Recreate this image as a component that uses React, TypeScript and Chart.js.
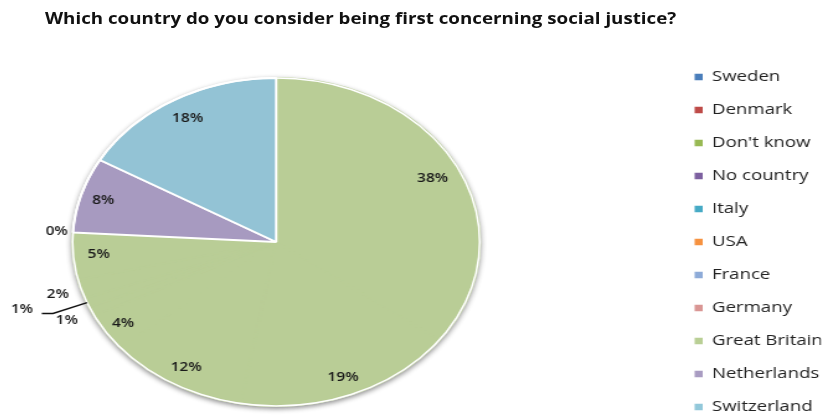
import React, { useEffect, useRef } from "react";
import { Chart, registerables } from "chart.js";

Chart.register(...registerables);

// ---------- data ----------
const TITLE = "Which country do you consider being first concerning social justice?";
const countries = [
  "Sweden",
  "Denmark",
  "Don't know",
  "No country",
  "Italy",
  "USA",
  "France",
  "Germany",
  "Great Britain",
  "Netherlands",
  "Switzerland",
];
const shares = [38, 19, 12, 4, 1, 1, 2, 5, 0, 8, 18];
const shareLabels = shares.map((v) => `${v}%`);

// ---------- styles ----------
const legendColors = [
  "#4a7ebb",
  "#be4b48",
  "#98b954",
  "#7d60a0",
  "#46aac5",
  "#f69240",
  "#8eabd8",
  "#d99694",
  "#b9cf95",
  "#a99cc2",
  "#92c8da",
];
const GREEN = "#b9cd96";
const sliceColors = [
  GREEN, GREEN, GREEN, GREEN, GREEN, GREEN, GREEN, GREEN, GREEN,
  "#a79ac0",
  "#93c3d5",
];
const sliceBorders = sliceColors.map((c, i) => (i < 9 ? c : "#ffffff"));
// label distance from centre, as a fraction of the radius
const labelRadius = [0.86, 0.89, 0.885, 0.9, 1.135, 1.0, 1.12, 0.875, 1.08, 0.887, 0.87];
const LEADER_INDEX = 5;

const STRETCH = 1.241; // the reference is horizontally stretched
const CANVAS_W = 789;
const CANVAS_H = 484;
const CANVAS_LEFT = -119.7;
const PIE_RADIUS = 164;
const FONT = '"Open Sans", "DejaVu Sans", sans-serif';

const pieDecor = {
  id: "pieDecor",
  beforeDatasetsDraw(chart: any) {
    const arc = chart.getDatasetMeta(0).data[0];
    if (!arc) return;
    const { x, y, outerRadius } = arc.getProps(["x", "y", "outerRadius"], true);
    const ctx = chart.ctx;
    ctx.save();
    ctx.shadowColor = "rgba(0,0,0,0.45)";
    ctx.shadowBlur = 5;
    ctx.shadowOffsetX = 0;
    ctx.shadowOffsetY = 2;
    ctx.fillStyle = "#ffffff";
    ctx.beginPath();
    ctx.arc(x, y, outerRadius + 1, 0, Math.PI * 2);
    ctx.fill();
    ctx.restore();
  },
  afterDatasetsDraw(chart: any) {
    const meta = chart.getDatasetMeta(0);
    const ctx = chart.ctx;
    const first = meta.data[0];
    if (!first) return;
    const c = first.getProps(["x", "y", "outerRadius"], true);
    ctx.save();
    ctx.strokeStyle = "#ffffff";
    ctx.lineWidth = 1.5;
    ctx.beginPath();
    ctx.arc(c.x, c.y, c.outerRadius, 0, Math.PI * 2);
    ctx.stroke();

    ctx.font = `600 12.5px ${FONT}`;
    ctx.fillStyle = "#1a1a1a";
    ctx.textBaseline = "middle";
    meta.data.forEach((el: any, i: number) => {
      const { x, y, startAngle, endAngle, outerRadius } = el.getProps(
        ["x", "y", "startAngle", "endAngle", "outerRadius"],
        true
      );
      const mid = (startAngle + endAngle) / 2;
      const cos = Math.cos(mid);
      const sin = Math.sin(mid);
      if (i === LEADER_INDEX) {
        const x1 = x + cos * outerRadius;
        const y1 = y + sin * outerRadius;
        const x2 = x + cos * outerRadius * 1.18;
        const y2 = y + sin * outerRadius * 1.18;
        const x3 = x2 - 9;
        ctx.strokeStyle = "#111111";
        ctx.lineWidth = 1.4;
        ctx.beginPath();
        ctx.moveTo(x1, y1);
        ctx.lineTo(x2, y2);
        ctx.lineTo(x3, y2);
        ctx.stroke();
        ctx.textAlign = "right";
        ctx.fillText(shareLabels[i], x3 - 7, y2 - 4);
      } else {
        const k = labelRadius[i];
        ctx.textAlign = "center";
        ctx.fillText(shareLabels[i], x + cos * outerRadius * k, y + sin * outerRadius * k);
      }
    });
    ctx.restore();
  },
};

export default function App() {
  const ref = useRef<HTMLCanvasElement | null>(null);

  useEffect(() => {
    document.body.style.margin = "0";
    document.body.style.overflow = "hidden";
    const canvas = ref.current;
    if (!canvas) return;
    const chart = new Chart(canvas, {
      type: "pie",
      data: {
        labels: countries,
        datasets: [
          {
            data: shares,
            backgroundColor: sliceColors,
            borderColor: sliceBorders,
            borderWidth: 2,
            radius: PIE_RADIUS,
          } as any,
        ],
      },
      options: {
        responsive: false,
        animation: false,
        events: [],
        layout: { padding: { left: 0, right: 30.5, top: 0, bottom: 0 } },
        plugins: {
          title: { display: false },
          tooltip: { enabled: false },
          legend: {
            display: true,
            position: "right",
            maxWidth: 120,
            labels: {
              boxWidth: 6.5,
              boxHeight: 6.5,
              padding: 18,
              color: "#222222",
              font: { family: FONT, size: 15 },
              generateLabels: () =>
                countries.map((name, i) => ({
                  text: name,
                  fillStyle: legendColors[i],
                  strokeStyle: legendColors[i],
                  lineWidth: 0,
                  hidden: false,
                  index: i,
                  fontColor: "#222222",
                })),
            },
          },
        },
      } as any,
      plugins: [pieDecor],
    });
    return () => chart.destroy();
  }, []);

  return (
    <div style={{ position: "relative", width: 830, height: 416, overflow: "hidden", background: "#ffffff" }}>
      <canvas
        ref={ref}
        width={CANVAS_W}
        height={CANVAS_H}
        style={{
          position: "absolute",
          left: CANVAS_LEFT,
          top: 0,
          width: `${CANVAS_W * STRETCH}px`,
          height: `${CANVAS_H}px`,
        }}
      />
      <div
        style={{
          position: "absolute",
          left: 45,
          top: 8,
          fontFamily: FONT,
          fontWeight: 700,
          fontSize: 15.1,
          lineHeight: "20px",
          color: "#111111",
          whiteSpace: "nowrap",
          transform: `scaleX(${STRETCH})`,
          transformOrigin: "0 0",
        }}
      >
        {TITLE}
      </div>
    </div>
  );
}
